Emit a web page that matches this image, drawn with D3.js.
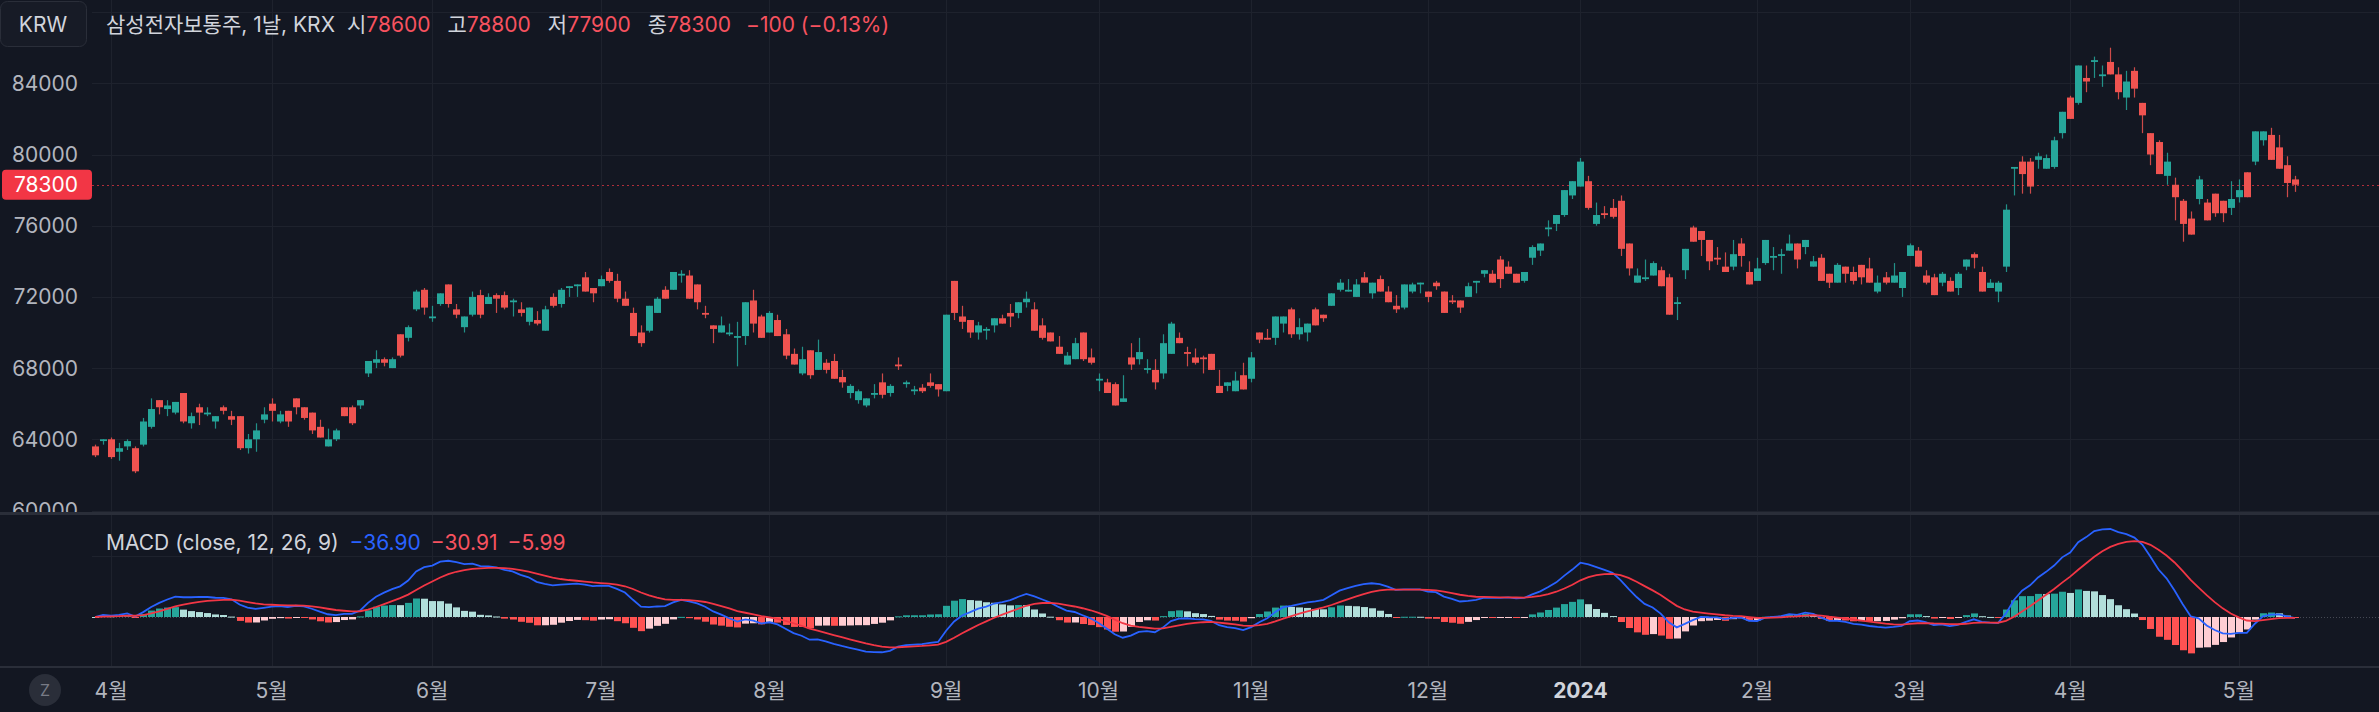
<!DOCTYPE html>
<html lang="ko">
<head>
<meta charset="utf-8">
<title>삼성전자보통주, 1날, KRX</title>
<script src="https://cdn.jsdelivr.net/npm/d3@7"></script>
<style>
  html, body { margin: 0; padding: 0; background: #131722; }
  svg { display: block; font-family: Inter, "Noto Sans CJK KR", sans-serif; }
</style>
</head>
<body>
<script>
/* trading days, month by month */
var tradingDays = [
  ["2023-03", [30, 31]],
  ["2023-04", [3,4,5,6,7,10,11,12,13,14,17,18,19,20,21,24,25,26,27,28]],
  ["2023-05", [2,3,4,8,9,10,11,12,15,16,17,18,19,22,23,24,25,26,30,31]],
  ["2023-06", [1,2,5,7,8,9,12,13,14,15,16,19,20,21,22,23,26,27,28,29,30]],
  ["2023-07", [3,4,5,6,7,10,11,12,13,14,17,18,19,20,21,24,25,26,27,28,31]],
  ["2023-08", [1,2,3,4,7,8,9,10,11,14,16,17,18,21,22,23,24,25,28,29,30,31]],
  ["2023-09", [1,4,5,6,7,8,11,12,13,14,15,18,19,20,21,22,25,26,27]],
  ["2023-10", [4,5,6,10,11,12,13,16,17,18,19,20,23,24,25,26,27,30,31]],
  ["2023-11", [1,2,3,6,7,8,9,10,13,14,15,16,17,20,21,22,23,24,27,28,29,30]],
  ["2023-12", [1,4,5,6,7,8,11,12,13,14,15,18,19,20,21,22,26,27,28]],
  ["2024-01", [2,3,4,5,8,9,10,11,12,15,16,17,18,19,22,23,24,25,26,29,30,31]],
  ["2024-02", [1,2,5,6,7,8,13,14,15,16,19,20,21,22,23,26,27,28,29]],
  ["2024-03", [4,5,6,7,8,11,12,13,14,15,18,19,20,21,22,25,26,27,28,29]],
  ["2024-04", [1,2,3,4,5,8,9,11,12,15,16,17,18,19,22,23,24,25,26,29,30]],
  ["2024-05", [2,3,7,8,9,10,13,14]]
];

var monthLabels = ["4월","5월","6월","7월","8월","9월","10월","11월","12월","2024","2월","3월","4월","5월"];

var opens = [
 63600,63900,
 64000,63300,63600,63500,63700,64700,66200,65700,65500,66600,64900,65800,65400,65000,65800,65300,65300,63500,64000,65100,
 66000,65000,65600,66300,65800,65500,64700,63600,64000,65800,65800,65900,67700,68300,68500,68000,69900,69700,71300,72400,
 70800,71600,72700,71300,70300,71000,72100,71600,72100,72100,71700,71300,70600,70700,70100,72000,71600,72500,72600,73100,72500,
 72600,73400,72900,71900,71100,70000,70100,71100,72400,72400,73200,73200,72700,71100,70400,70000,69900,69700,69800,71800,70900,
 70000,70700,69900,68800,67700,69000,67900,68300,68400,67500,66600,66200,65900,66500,67200,66600,68200,67100,66700,66900,67200,67100,
 66700,72900,70900,70700,70000,70100,70400,70800,71100,71100,71700,71300,70400,70000,69200,68200,68500,70000,68600,
 67300,67200,67100,66100,68600,68500,67900,67900,67700,68800,69700,68900,68600,68600,68800,67000,67000,66700,67600,
 67400,70000,69700,69700,70500,71300,69900,70000,71300,71000,71500,72400,72300,72000,73100,72200,73000,72300,71500,71400,72300,72700,
 72300,72800,72300,71800,71800,72000,72800,73300,73300,74100,73700,73300,72900,74200,74600,75800,76100,76600,77700,
 78200,78500,76100,76700,77000,77400,75000,72800,73000,73200,73500,73100,71600,73500,75900,75700,75200,74200,73700,73700,75000,73400,
 72900,73900,74200,74300,74600,75000,74800,73700,74200,73300,72800,73700,73400,73800,73600,72300,73100,72800,72500,
 74300,74600,73200,73100,72800,72900,72500,73700,74400,73400,72500,72300,73700,79200,79600,79600,79700,79200,79300,81200,
 83200,82900,84300,85200,84400,85200,84500,83200,84700,82900,81200,80700,78800,78300,77400,76400,77500,77300,77800,77400,77000,
 77600,79000,79600,80800,81100,80400,79400,78600
];
var highs = [
 63700,64000,
 64100,63800,64000,63600,65200,66300,66200,66200,66100,66600,65500,66000,65800,65300,65900,65600,65300,64300,64900,65800,
 66300,65600,65600,66300,65800,65500,65100,64600,64600,65800,65900,66200,68400,69000,68600,68600,69900,70400,72400,72500,
 71500,72200,72700,71600,70900,72300,72400,72200,72200,72300,71900,71700,71400,71200,71500,72200,72500,72600,72700,73400,72500,
 73200,73600,73300,72300,71400,70400,71500,72000,72600,73400,73500,73500,72700,71500,70400,70900,70500,70600,71700,72400,71000,
 71200,71000,70200,69100,69200,69000,69600,68500,68800,67900,67100,66800,66300,67100,67700,67100,68600,67300,67000,67100,67700,67100,
 71000,72900,71500,70700,70600,70300,70800,71000,71600,71700,72300,71700,70800,70000,69800,68900,69700,70000,69100,
 67700,67400,67200,67600,69400,69700,68500,68500,69900,70600,70000,69200,69100,68700,68800,67900,67200,67800,68300,
 68900,70000,70200,70900,70900,71400,70800,70500,71400,71000,72200,73000,73000,73000,73400,72800,73200,72600,72100,72700,72800,72800,
 72300,72900,72300,72100,71800,72800,72900,73500,73500,74300,74000,73300,73400,74900,75000,76300,76600,78000,78500,
 79800,78800,77300,77100,77500,77700,75000,73600,74100,74000,73700,73300,72000,74700,76000,75700,75200,74800,74500,75200,75300,74000,
 74200,75200,74800,74700,75500,75000,75200,74300,74400,73300,73900,73700,73700,73800,74200,73200,73400,73900,73400,
 75000,74800,73500,73300,73400,73100,73400,74100,74500,73700,73000,72900,77200,79300,79900,79800,80100,80000,81000,82400,
 83300,85000,85000,85500,85000,86000,84900,84700,84900,82900,81200,80800,80100,78700,77500,76800,78800,77500,77800,77400,78500,
 78600,79000,81300,81300,81500,81100,79900,78800
];
var lows = [
 63000,63700,
 62900,62800,63400,62100,63600,64600,65400,65300,65400,64900,64600,64800,65300,64600,65400,64800,63400,63200,63300,64900,
 65000,64900,64700,65400,65100,64300,64100,63600,63900,65300,64800,65700,67500,68000,68100,68000,68600,69500,71200,71000,
 70600,71500,71400,70800,70000,70900,70800,71600,71100,71300,70900,70900,70400,70400,70100,71400,71400,72000,72000,72300,71700,
 72600,72800,71700,71500,69800,69200,70000,71100,71900,72400,72800,71900,71300,70800,69400,70000,69800,68100,69300,70000,69700,
 70000,69800,68500,68200,67600,67400,67900,67700,67400,66900,66300,66000,65800,66300,66300,66400,67900,66900,66500,66600,66900,66400,
 66700,70700,70200,69700,69600,69600,70000,70500,70300,70800,71400,70100,69600,69500,68800,68200,68500,68400,68200,
 66700,66600,65900,66100,67900,68200,67700,66800,67400,68800,69400,68100,68200,67700,67900,66600,66700,66700,66800,
 67200,69400,69600,69300,70000,69700,69600,69500,70400,70600,71500,72300,72300,72000,72800,71900,72300,71700,71100,71300,72200,72200,
 71700,72400,71100,71600,71100,72000,72200,73100,72800,72500,73300,72800,72800,73800,74300,75400,75700,76500,77500,
 78200,76900,76000,76400,76400,74300,73200,72800,72900,73200,72600,71000,70700,73000,75100,74300,73500,73800,73400,73500,73700,72700,
 72900,73800,73500,73300,74600,73600,74400,73700,72900,72500,72800,72800,72700,72700,72800,72200,72700,72800,72000,
 74300,73700,72700,72100,72600,72300,72100,73500,73600,72300,72500,71700,73400,77700,77800,77800,79200,79200,79200,80900,
 82000,82800,83500,84300,83800,84500,83100,82500,83200,81200,79400,78900,78300,76300,75100,75500,77200,76300,76500,76200,76600,
 77300,77600,79400,80500,79700,79200,77600,77900
];
var closes = [
 63100,64000,
 63000,63500,63900,62200,65000,65700,65800,65900,66100,65000,65300,65500,65500,65300,65600,65100,63500,64000,64500,65400,
 65600,65400,65000,65800,65200,64500,64100,64000,64500,65300,64900,66200,68400,68500,68300,68500,68700,70300,72300,71400,
 70900,72200,71600,71000,70900,72000,71000,72000,71900,71400,71800,71100,71400,70500,71300,71500,72400,72600,72700,72300,72200,
 73000,72900,71900,71500,69800,69400,71500,71900,71900,73400,73300,71900,71700,71000,70200,70400,70000,69800,71700,70500,69700,
 71100,69800,68700,68200,68500,67600,68900,67900,67400,67200,67000,66700,66300,66600,66500,67000,68100,67200,66800,66700,67000,66800,
 71000,71100,70600,70000,70400,70200,70800,70500,70900,71700,71900,70100,69700,69500,68800,68700,69400,68500,68300,
 67400,66600,65900,66300,68200,68900,68000,67200,69400,70500,69400,68800,68300,68500,67900,66600,67200,67300,66800,
 68600,69600,69600,70900,70900,69900,70300,70500,70400,70800,72200,72800,72400,72700,72800,72800,72300,71700,71300,72700,72700,72800,
 72000,72600,71100,71700,71400,72600,72900,73500,72800,73000,73300,72800,73400,74800,75000,75900,76600,78000,78500,
 79600,77000,76600,76600,76500,74700,73600,73200,73100,73900,72600,71000,71700,74700,75100,75200,74000,74100,73400,74400,74300,72700,
 73600,75200,74300,74400,75000,74100,75200,74000,72900,72800,73800,73300,72900,73100,72800,72800,72800,73200,73400,
 74900,73700,72800,72100,73300,72300,73300,74100,74200,72300,72800,72800,76900,79300,78900,78200,79900,79800,80800,82400,
 82000,85000,84100,85300,84500,84500,83500,84100,83700,82200,80000,78900,79600,77600,76100,75500,78600,76300,76700,76700,77500,
 78000,77600,81300,81300,79700,79200,78400,78300
];

var priceTicks = [60000, 64000, 68000, 72000, 76000, 80000, 84000];
var priceGrid = [60000, 64000, 68000, 72000, 76000, 80000, 84000, 88000];
var headerParts = [
  ["삼성전자보통주, 1날, KRX", "label", 0],
  ["시", "label", 12], ["78600", "value", 0],
  ["고", "label", 17], ["78800", "value", 0],
  ["저", "label", 17], ["77900", "value", 0],
  ["종", "label", 17], ["78300", "value", 0],
  ["−100 (−0.13%)", "value", 15]
];
var lastPrice = 78300;
var macdTitle = "MACD (close, 12, 26, 9)";
var macdLegend = ["−36.90", "−30.91", "−5.99"];
var macdGridValues = [2000];

/* sizes and colours */
var W = 2379, H = 712;
var left = 92;
var pricePaneBottom = 513, macdPaneBottom = 666;
var upColor = "#26a69a", downColor = "#ef5350";
var gridColor = "#1e222d";
var textColor = "#b2b5be";

var dates = [];
tradingDays.forEach(function(m) {
  m[1].forEach(function(d) { dates.push(m[0] + "-" + (d < 10 ? "0" + d : d)); });
});
var monthStarts = tradingDays.slice(1).map(function(m) {
  var d = m[1][0];
  return m[0] + "-" + (d < 10 ? "0" + d : d);
});

var x = d3.scalePoint().domain(dates).range([95, 2295]);
var y = d3.scaleLinear().domain([60000, 84000]).range([510.5, 83.3]);

/* MACD from the closes */
function ema(arr, n) {
  var k = 2 / (n + 1), out = [arr[0]];
  for (var i = 1; i < arr.length; i++) out.push(arr[i] * k + out[i - 1] * (1 - k));
  return out;
}
var e12 = ema(closes, 12), e26 = ema(closes, 26);
var macd = closes.map(function(c, i) { return e12[i] - e26[i]; });
var signal = ema(macd, 9);
var hist = macd.map(function(m, i) { return m - signal[i]; });

var zeroY = 617;
var macdY = d3.scaleLinear().domain([0, d3.max(macd)]).range([zeroY, 529]);

var svg = d3.select("body").append("svg").attr("width", W).attr("height", H);
svg.append("rect").attr("width", W).attr("height", H).attr("fill", "#131722");

var defs = svg.append("defs");
defs.append("clipPath").attr("id", "pricePane").append("rect")
  .attr("x", left).attr("y", 0).attr("width", W - left).attr("height", pricePaneBottom - 1);
defs.append("clipPath").attr("id", "macdPane").append("rect")
  .attr("x", left).attr("y", pricePaneBottom + 1).attr("width", W - left).attr("height", macdPaneBottom - pricePaneBottom - 2);

/* grid */
var grid = svg.append("g");
grid.selectAll("line.vgrid").data(monthStarts).join("line")
  .attr("x1", function(d) { return Math.round(x(d)) + 0.5; })
  .attr("x2", function(d) { return Math.round(x(d)) + 0.5; })
  .attr("y1", 0).attr("y2", macdPaneBottom)
  .attr("stroke", gridColor).attr("stroke-width", 1);
grid.selectAll("line.hgrid").data(priceGrid).join("line")
  .attr("x1", left).attr("x2", W)
  .attr("y1", function(d) { return Math.round(y(d)) + 0.5; })
  .attr("y2", function(d) { return Math.round(y(d)) + 0.5; })
  .attr("stroke", gridColor).attr("stroke-width", 1)
  .attr("clip-path", "url(#pricePane)");
grid.selectAll("line.mgrid").data(macdGridValues).join("line")
  .attr("x1", left).attr("x2", W)
  .attr("y1", function(d) { return Math.round(macdY(d)) + 0.5; })
  .attr("y2", function(d) { return Math.round(macdY(d)) + 0.5; })
  .attr("stroke", gridColor).attr("stroke-width", 1);

/* pane separators */
svg.append("rect").attr("x", 0).attr("y", pricePaneBottom - 1).attr("width", W).attr("height", 3).attr("fill", "#2a2e39");
svg.append("rect").attr("x", 0).attr("y", macdPaneBottom).attr("width", W).attr("height", 2).attr("fill", "#2a2e39");

/* last price line */
svg.append("line")
  .attr("x1", left).attr("x2", W)
  .attr("y1", Math.round(y(lastPrice)) + 0.5).attr("y2", Math.round(y(lastPrice)) + 0.5)
  .attr("stroke", "#f23645").attr("stroke-opacity", 0.7)
  .attr("stroke-dasharray", "2,3");

/* candles */
var idx = d3.range(dates.length);
var candles = svg.append("g").attr("clip-path", "url(#pricePane)");
function col(i) { return closes[i] >= opens[i] ? upColor : downColor; }
candles.selectAll("line.wick").data(idx).join("line")
  .attr("x1", function(i) { return Math.round(x(dates[i])) + 0.5; })
  .attr("x2", function(i) { return Math.round(x(dates[i])) + 0.5; })
  .attr("y1", function(i) { return y(highs[i]); })
  .attr("y2", function(i) { return y(lows[i]); })
  .attr("stroke", col).attr("stroke-width", 1.2).attr("stroke-opacity", 0.85);
candles.selectAll("rect.body").data(idx).join("rect")
  .attr("x", function(i) { return Math.round(x(dates[i])) - 3; })
  .attr("width", 7)
  .attr("y", function(i) { return y(Math.max(opens[i], closes[i])); })
  .attr("height", function(i) { return Math.max(1.5, Math.abs(y(opens[i]) - y(closes[i]))); })
  .attr("fill", col);

/* MACD pane */
var mg = svg.append("g").attr("clip-path", "url(#macdPane)");
mg.append("line")
  .attr("x1", left).attr("x2", W).attr("y1", zeroY + 0.5).attr("y2", zeroY + 0.5)
  .attr("stroke", "#787b86").attr("stroke-opacity", 0.5).attr("stroke-dasharray", "1,2");
function histColor(i) {
  var h = hist[i], p = i > 0 ? hist[i - 1] : 0;
  if (h >= 0) return h > p ? "#26a69a" : "#b2dfdb";
  return h < p ? "#ff5252" : "#ffcdd2";
}
mg.selectAll("rect.hist").data(idx).join("rect")
  .attr("x", function(i) { return Math.round(x(dates[i])) - 3; })
  .attr("width", 7)
  .attr("y", function(i) { return Math.min(macdY(0), macdY(hist[i])); })
  .attr("height", function(i) { return Math.max(1, Math.abs(macdY(hist[i]) - macdY(0))); })
  .attr("fill", histColor);
var lineGen = function(arr) {
  return d3.line().x(function(i) { return x(dates[i]); }).y(function(i) { return macdY(arr[i]); });
};
mg.append("path").attr("d", lineGen(macd)(idx))
  .attr("fill", "none").attr("stroke", "#2962ff").attr("stroke-width", 1.8);
mg.append("path").attr("d", lineGen(signal)(idx))
  .attr("fill", "none").attr("stroke", "#f23645").attr("stroke-width", 1.8);

/* left price axis */
var axisG = svg.append("g");
axisG.selectAll("text.ptick").data(priceTicks).join("text")
  .attr("x", 78).attr("y", function(d) { return y(d); })
  .attr("text-anchor", "end").attr("dominant-baseline", "central")
  .attr("font-size", 21).attr("fill", textColor)
  .text(function(d) { return d; });
// hide the part of the bottom label under the separator
svg.append("rect").attr("x", 0).attr("y", pricePaneBottom - 1).attr("width", left).attr("height", 3).attr("fill", "#2a2e39");
svg.append("rect").attr("x", 0).attr("y", pricePaneBottom + 2).attr("width", left).attr("height", 14).attr("fill", "#131722");

/* last price badge */
svg.append("rect")
  .attr("x", 2).attr("y", y(lastPrice) - 15).attr("width", 90).attr("height", 30)
  .attr("rx", 4).attr("fill", "#f23645");
svg.append("text")
  .attr("x", 78).attr("y", y(lastPrice))
  .attr("text-anchor", "end").attr("dominant-baseline", "central")
  .attr("font-size", 21).attr("fill", "#ffffff")
  .text(lastPrice);

/* time axis */
svg.selectAll("text.mtick").data(monthStarts).join("text")
  .attr("x", function(d) { return x(d); }).attr("y", 690)
  .attr("text-anchor", "middle").attr("dominant-baseline", "central")
  .attr("font-size", 21)
  .attr("font-weight", function(d, i) { return monthLabels[i] === "2024" ? 700 : 400; })
  .attr("fill", function(d, i) { return monthLabels[i] === "2024" ? "#d1d4dc" : textColor; })
  .text(function(d, i) { return monthLabels[i]; });

/* Z button */
svg.append("circle").attr("cx", 45).attr("cy", 690).attr("r", 16).attr("fill", "#2a2e39");
svg.append("text").attr("x", 45).attr("y", 690)
  .attr("text-anchor", "middle").attr("dominant-baseline", "central")
  .attr("font-size", 16).attr("fill", "#787b86").text("Z");

/* header */
svg.append("rect").attr("x", 0.5).attr("y", 1.5).attr("width", 86).attr("height", 45)
  .attr("rx", 7).attr("fill", "#171b26").attr("stroke", "#2a2e39");
svg.append("text").attr("x", 43).attr("y", 24)
  .attr("text-anchor", "middle").attr("dominant-baseline", "central")
  .attr("font-size", 21).attr("fill", "#d1d4dc").text("KRW");

var header = svg.append("text").attr("x", 106).attr("y", 24)
  .attr("dominant-baseline", "central").attr("font-size", 21);
headerParts.forEach(function(p) {
  header.append("tspan").attr("dx", p[2])
    .attr("fill", p[1] === "value" ? "#f7525f" : "#d1d4dc")
    .text(p[0]);
});

/* MACD legend */
var legend = svg.append("text").attr("x", 106).attr("y", 542)
  .attr("dominant-baseline", "central").attr("font-size", 21);
legend.append("tspan").attr("fill", "#d1d4dc").text(macdTitle);
legend.append("tspan").attr("dx", 11).attr("fill", "#2962ff").text(macdLegend[0]);
legend.append("tspan").attr("dx", 10).attr("fill", "#f7525f").text(macdLegend[1]);
legend.append("tspan").attr("dx", 10).attr("fill", "#f7525f").text(macdLegend[2]);
</script>
</body>
</html>
